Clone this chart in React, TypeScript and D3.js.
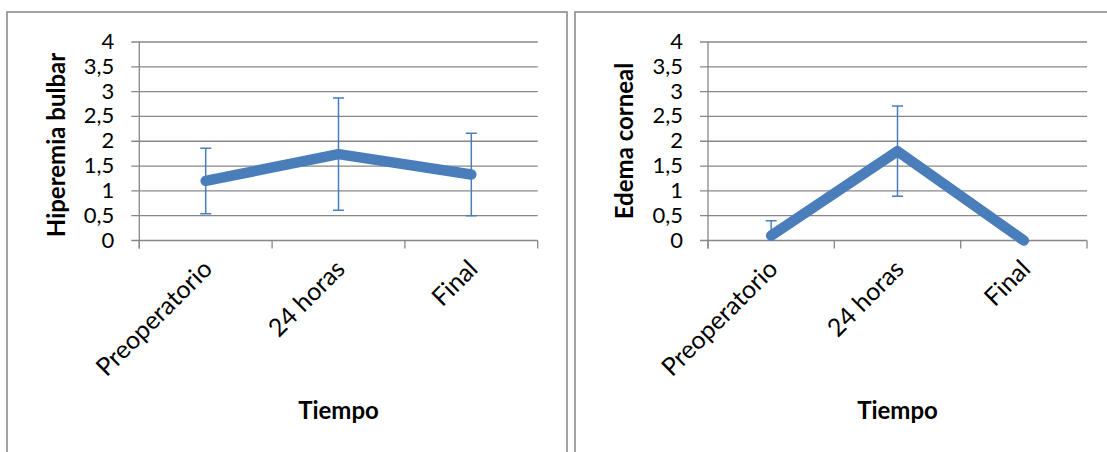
import React from "react";
import * as d3 from "d3";

const categories = ["Preoperatorio", "24 horas", "Final"];
const hiperemiaMean = [1.2, 1.74, 1.33];
const hiperemiaSD = [0.66, 1.13, 0.83];
const edemaMean = [0.1, 1.8, 0];
const edemaSD = [0.3, 0.91, 0];
const yTicks = [0, 0.5, 1, 1.5, 2, 2.5, 3, 3.5, 4];
const yTickLabels = ["0", "0,5", "1", "1,5", "2", "2,5", "3", "3,5", "4"];
const xTitle = "Tiempo";

const FONT = "Lato, 'Open Sans', sans-serif";
const BLUE = "#4A7EBB";
const GRID = "#878787";

type PanelProps = {
  id: string;
  frameX: number;
  frameW: number;
  plotX0: number;
  plotX1: number;
  yTitle: string;
  titleCY: number;
  means: number[];
  sds: number[];
};

const Panel = ({ id, frameX, frameW, plotX0, plotX1, yTitle, titleCY, means, sds }: PanelProps) => {
  const top = 42;
  const bottom = 240.5;
  const x = d3.scaleBand<string>().domain(categories).range([plotX0, plotX1]).padding(0);
  const y = d3.scaleLinear().domain([0, 4]).range([bottom, top]);
  const cx = (c: string) => (x(c) as number) + x.bandwidth() / 2;
  const line = d3
    .line<number>()
    .x((_, i) => cx(categories[i]))
    .y((d) => y(d));
  const boundaries = [...categories.map((c) => x(c) as number), plotX1];
  const titleX = frameX + 58;
  return (
    <g>
      <defs>
        <clipPath id={`clip-${id}`}>
          <rect x={plotX0 - 10} y={top - 5} width={plotX1 - plotX0 + 20} height={bottom - top + 5} />
        </clipPath>
      </defs>
      <rect x={frameX} y={12} width={frameW} height={500} fill="#fff" stroke="#8c8c8c" strokeWidth={1.6} />
      {yTicks.map((t, i) => (
        <g key={`g${i}`}>
          <line x1={plotX0 - 8} x2={plotX1} y1={y(t)} y2={y(t)} stroke={GRID} strokeWidth={1.3} />
          <text
            x={plotX0 - 25}
            y={y(t) + 7}
            textAnchor="end"
            fontFamily={FONT}
            fontSize={22}
            fill="#000"
          >
            {yTickLabels[i]}
          </text>
        </g>
      ))}
      <line x1={plotX0} x2={plotX0} y1={top} y2={bottom + 8} stroke={GRID} strokeWidth={1.3} />
      {boundaries.map((b, i) => (
        <line key={`b${i}`} x1={b} x2={b} y1={bottom} y2={bottom + 8} stroke={GRID} strokeWidth={1.3} />
      ))}
      <path
        d={line(means) || ""}
        fill="none"
        stroke={BLUE}
        strokeWidth={10.5}
        strokeLinecap="round"
        strokeLinejoin="round"
      />
      <g clipPath={`url(#clip-${id})`}>
        {means.map((m, i) =>
          sds[i] > 0 ? (
            <g key={`e${i}`} stroke={BLUE} strokeWidth={1.5}>
              <line x1={cx(categories[i])} x2={cx(categories[i])} y1={y(m + sds[i])} y2={y(m - sds[i])} />
              <line x1={cx(categories[i]) - 5.5} x2={cx(categories[i]) + 5.5} y1={y(m + sds[i])} y2={y(m + sds[i])} />
              <line x1={cx(categories[i]) - 5.5} x2={cx(categories[i]) + 5.5} y1={y(m - sds[i])} y2={y(m - sds[i])} />
            </g>
          ) : null
        )}
      </g>
      {categories.map((c, i) => (
        <text
          key={`c${i}`}
          transform={`translate(${cx(c) + 8},${bottom + 30}) rotate(-45)`}
          textAnchor="end"
          fontFamily={FONT}
          fontSize={25}
          fill="#000"
        >
          {c}
        </text>
      ))}
      <text
        x={(plotX0 + plotX1) / 2}
        y={419}
        textAnchor="middle"
        fontFamily={FONT}
        fontWeight="bold"
        fontSize={24}
        fill="#000"
      >
        {xTitle}
      </text>
      <text
        transform={`translate(${titleX},${titleCY}) rotate(-90)`}
        textAnchor="middle"
        fontFamily={FONT}
        fontWeight="bold"
        fontSize={24}
        fill="#000"
      >
        {yTitle}
      </text>
    </g>
  );
};

export default function App() {
  return (
    <svg
      width={1107}
      height={452}
      viewBox="0 0 1107 452"
      style={{ position: "absolute", left: 0, top: 0, background: "#fff" }}
    >
      <rect x={0} y={0} width={1107} height={452} fill="#fff" />
      <Panel
        id="a"
        frameX={7}
        frameW={560}
        plotX0={139.3}
        plotX1={537.7}
        yTitle="Hiperemia bulbar"
        titleCY={145}
        means={hiperemiaMean}
        sds={hiperemiaSD}
      />
      <Panel
        id="b"
        frameX={575}
        frameW={560}
        plotX0={708}
        plotX1={1087}
        yTitle="Edema corneal"
        titleCY={141}
        means={edemaMean}
        sds={edemaSD}
      />
    </svg>
  );
}
